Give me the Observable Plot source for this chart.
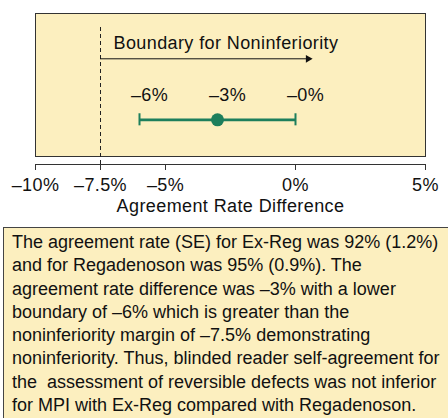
<!DOCTYPE html>
<html>
<head>
<meta charset="utf-8">
<script src="https://cdn.jsdelivr.net/npm/d3@7"></script>
<script src="https://cdn.jsdelivr.net/npm/@observablehq/plot@0.6"></script>
<style>
  html, body { margin: 0; padding: 0; background: #fff; overflow: hidden; width: 448px; height: 418px; }
  #chart { position: absolute; left: 0; top: 0; }
  #note {
    position: absolute; left: 3px; top: 227px; width: 470px; height: 220px;
    box-sizing: border-box;
    background: #fcefbf;
    border-top: 1px solid #444; border-left: 1px solid #444;
    padding: 3px 0 0 8px;
    font-family: "Liberation Sans", Arial, sans-serif; font-size: 18px; line-height: 23.3px;
    color: #111; white-space: pre;
  }
</style>
</head>
<body>
<div id="chart"></div>
<div id="note"></div>
<script>
// ---- data ----
const estimate = [-3];
const lowerBound = [-6];
const upperBound = [0];
const labelValues = [-6, -3, 0];
const labelTexts = ["–6%", "–3%", "–0%"];
const marginValue = [-7.5];
const arrowEndValue = [0.6];
const boundaryLabel = ["Boundary for Noninferiority"];
const tickValues = [-10, -7.5, -5, 0, 5];
const axisLabel = ["Agreement Rate Difference"];
const noteLines = [
  "The agreement rate (SE) for Ex-Reg was 92% (1.2%)",
  "and for Regadenoson was 95% (0.9%). The",
  "agreement rate difference was –3% with a lower",
  "boundary of –6% which is greater than the",
  "noninferiority margin of –7.5% demonstrating",
  "noninferiority. Thus, blinded reader self-agreement for",
  "the  assessment of reversible defects was not inferior",
  "for MPI with Ex-Reg compared with Regadenoson."
];

// ---- layout rows (vertical positions in the frame, 0 = axis, 1 = top) ----
const rowBoundary = 0.801, rowArrow = 0.70, rowLabels = 0.457, rowBar = 0.296, dashTop = 0.927;
const green = "#1d7f5c";
const fmt = d => (d < 0 ? "–" : "") + Math.abs(d) + "%";

const bars = estimate.map((e, i) => ({est: e, lo: lowerBound[i], hi: upperBound[i]}));
const labs = labelValues.map((v, i) => ({x: v, t: labelTexts[i]}));

const chart = Plot.plot({
  width: 448, height: 227,
  marginLeft: 35, marginRight: 23, marginTop: 13, marginBottom: 63,
  style: {fontFamily: "Liberation Sans, Arial, sans-serif", fontSize: "18px", color: "#222", background: "transparent", letterSpacing: "0.4px"},
  x: {domain: [-10, 5]},
  y: {domain: [0, 1], axis: null},
  marks: [
    Plot.frame({fill: "#fcefbf", stroke: "#333", insetBottom: 8}),
    Plot.ruleX(marginValue, {y1: 0, y2: dashTop, stroke: "#222", strokeDasharray: "4,3", strokeWidth: 1}),
    Plot.text(boundaryLabel, {x: marginValue[0], y: rowBoundary, text: d => d, textAnchor: "start", dx: 13, fill: "#111", fontSize: 18}),
    Plot.ruleY([rowArrow], {x1: marginValue[0], x2: arrowEndValue[0], stroke: "#111", strokeWidth: 1}),
    Plot.dot(arrowEndValue, {x: d => d, y: rowArrow, symbol: "triangle", rotate: 90, r: 2.9, fill: "#111", stroke: "none", dx: -3}),
    Plot.text(labs, {x: "x", y: rowLabels, text: "t", dx: 10, fill: "#111", fontSize: 18}),
    Plot.ruleY(bars, {x1: "lo", x2: "hi", y: rowBar, stroke: green, strokeWidth: 2.8}),
    Plot.ruleX(bars.flatMap(b => [b.lo, b.hi]), {x: d => d, y1: rowBar - 0.04, y2: rowBar + 0.04, stroke: green, strokeWidth: 2}),
    Plot.dot(bars, {x: "est", y: rowBar, r: 6.5, fill: green, stroke: "none"}),
    Plot.ruleY([0], {stroke: "#333", strokeWidth: 1}),
    Plot.axisX({ticks: tickValues, tickFormat: fmt, tickSize: 6, tickPadding: 8, label: null, stroke: "#333", fill: "#111", fontSize: 18}),
    Plot.text(axisLabel, {frameAnchor: "bottom", dy: 47, text: d => d, fill: "#111", fontSize: 18})
  ]
});
document.getElementById("chart").appendChild(chart);
document.getElementById("note").textContent = noteLines.join("\n");
</script>
</body>
</html>
